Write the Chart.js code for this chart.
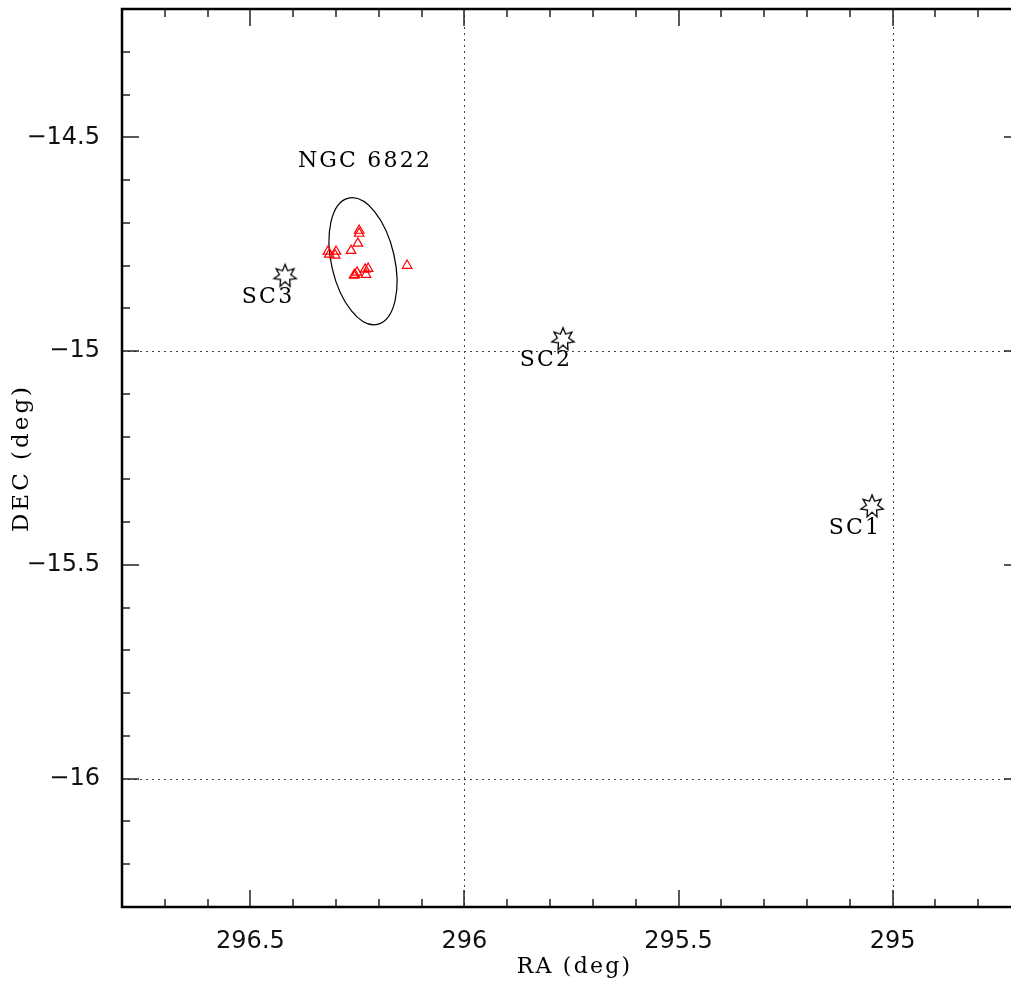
<!DOCTYPE html>
<html lang="en">
<head>
  <meta charset="UTF-8">
  <title>NGC 6822 field</title>
  <script src="https://cdn.jsdelivr.net/npm/chart.js"></script>
  <style>
    html, body { margin: 0; padding: 0; background: #fff; overflow: hidden; }
    canvas { display: block; margin-top: -4px; }
  </style>
</head>
<body>
  <canvas id="fieldChart" width="1034" height="992"></canvas>

  <script>
    // red triangles (NGC 6822 objects)
    const objRA  = [296.246, 296.246, 296.249, 296.265, 296.319, 296.316, 296.300, 296.302,
                    296.256, 296.251, 296.258, 296.232, 296.225, 296.230, 296.134];
    const objDec = [-14.718, -14.725, -14.748, -14.765, -14.767, -14.774, -14.767, -14.776,
                    -14.821, -14.816, -14.823, -14.809, -14.807, -14.821, -14.800];

    // stars SC1..SC3
    const starNames = ['SC1', 'SC2', 'SC3'];
    const starRA  = [295.048, 295.770, 296.419];
    const starDec = [-15.362, -14.971, -14.823];

    // galaxy ellipse (deg) and its label
    const galName = 'NGC 6822';
    const galRA = 296.237, galDec = -14.790;
    const galMajor = 0.1515, galMinor = 0.0738, galAngle = -12.9;
    const galLabelDec = -14.557;

    // axes
    const raMin = 294.7, raMax = 296.8;
    const decMin = -16.3, decMax = -14.2;
    const gridRA = [295, 296];
    const gridDec = [-15, -16];

    const serif = '"DejaVu Serif", serif';

    // open 7-point star used as point style
    function makeStar() {
      const c = document.createElement('canvas');
      c.width = 28; c.height = 28;
      const g = c.getContext('2d');
      g.beginPath();
      for (let i = 0; i < 14; i++) {
        const r = i % 2 === 0 ? 11.5 : 5.8;
        const a = Math.PI * i / 7;
        const px = 14 + Math.sin(a) * r, py = 14.5 - Math.cos(a) * r;
        if (i === 0) g.moveTo(px, py); else g.lineTo(px, py);
      }
      g.closePath();
      g.fillStyle = '#fff';
      g.fill();
      g.lineWidth = 1.3;
      g.strokeStyle = '#000';
      g.stroke();
      return c;
    }

    const framePlugin = {
      id: 'frame',
      beforeDatasetsDraw(chart) {
        const { ctx, chartArea: a, scales: { x, y } } = chart;
        ctx.save();
        // dotted grid lines
        ctx.strokeStyle = '#444';
        ctx.lineWidth = 1;
        ctx.setLineDash([2, 4]);
        gridRA.forEach(v => {
          const px = Math.round(x.getPixelForValue(v)) + 0.5;
          ctx.beginPath(); ctx.moveTo(px, a.top); ctx.lineTo(px, a.bottom); ctx.stroke();
        });
        gridDec.forEach(v => {
          const py = Math.round(y.getPixelForValue(v)) + 0.5;
          ctx.beginPath(); ctx.moveTo(a.left, py); ctx.lineTo(a.right, py); ctx.stroke();
        });
        ctx.setLineDash([]);

        // ellipse
        const cx = x.getPixelForValue(galRA), cy = y.getPixelForValue(galDec);
        const rx = Math.abs(x.getPixelForValue(galRA + galMinor) - cx);
        const ry = Math.abs(y.getPixelForValue(galDec + galMajor) - cy);
        ctx.strokeStyle = '#000';
        ctx.lineWidth = 1.2;
        ctx.beginPath();
        ctx.ellipse(cx, cy, rx, ry, galAngle * Math.PI / 180, 0, 2 * Math.PI);
        ctx.stroke();

        // inward ticks on all four sides
        ctx.strokeStyle = '#222';
        ctx.lineWidth = 1.5;
        for (let i = Math.ceil(raMin * 10); i <= Math.floor(raMax * 10); i++) {
          const px = Math.round(x.getPixelForValue(i / 10));
          const len = i % 5 === 0 ? 17 : 8;
          ctx.beginPath();
          ctx.moveTo(px, a.bottom); ctx.lineTo(px, a.bottom - len);
          ctx.moveTo(px, a.top); ctx.lineTo(px, a.top + len);
          ctx.stroke();
        }
        for (let i = Math.ceil(decMin * 10); i <= Math.floor(decMax * 10); i++) {
          const py = Math.round(y.getPixelForValue(i / 10));
          const len = i % 5 === 0 ? 17 : 8;
          ctx.beginPath();
          ctx.moveTo(a.left, py); ctx.lineTo(a.left + len, py);
          ctx.moveTo(a.right, py); ctx.lineTo(a.right - len, py);
          ctx.stroke();
        }

        // frame
        ctx.strokeStyle = '#000';
        ctx.lineWidth = 2.5;
        ctx.strokeRect(a.left, a.top, a.right - a.left, a.bottom - a.top);
        ctx.restore();
      },
      afterDatasetsDraw(chart) {
        const { ctx, chartArea: a, scales: { x, y } } = chart;
        ctx.save();
        ctx.fillStyle = '#000';
        ctx.font = '22px ' + serif;
        ctx.letterSpacing = '2.2px';
        ctx.textAlign = 'center';
        ctx.textBaseline = 'middle';
        // star labels sit below-left of each star
        starNames.forEach((n, i) => {
          const px = x.getPixelForValue(starRA[i]), py = y.getPixelForValue(starDec[i]);
          ctx.fillText(n, px - 17, py + 22);
        });
        ctx.fillText(galName, x.getPixelForValue(galRA) + 2, y.getPixelForValue(galLabelDec));

        // axis titles
        ctx.fillText('RA (deg)', x.getPixelForValue(295.75) + 3, a.bottom + 60);
        ctx.font = '23px ' + serif;
        ctx.letterSpacing = '3px';
        ctx.translate(22, (a.top + a.bottom) / 2);
        ctx.rotate(-Math.PI / 2);
        ctx.fillText('DEC (deg)', 0, 0);
        ctx.restore();
      }
    };

    const ctx = document.getElementById('fieldChart').getContext('2d');
    new Chart(ctx, {
      type: 'scatter',
      data: {
        datasets: [{
          label: 'objects',
          data: objRA.map((r, i) => ({ x: r, y: objDec[i] })),
          pointStyle: 'triangle',
          pointRadius: 5.5,
          pointHoverRadius: 5.5,
          borderColor: '#ff0000',
          backgroundColor: 'rgba(0,0,0,0)',
          borderWidth: 1.2
        }, {
          label: 'stars',
          data: starRA.map((r, i) => ({ x: r, y: starDec[i] })),
          pointStyle: makeStar(),
          pointRadius: 12
        }]
      },
      options: {
        responsive: false,
        animation: false,
        events: [],
        layout: { padding: { top: 5, right: 9, left: 0, bottom: 0 } },
        plugins: { legend: { display: false }, tooltip: { enabled: false } },
        scales: {
          x: {
            type: 'linear',
            reverse: true,
            min: raMin,
            max: raMax,
            grid: { display: false },
            border: { display: false },
            ticks: {
              stepSize: 0.5,
              includeBounds: false,
              padding: 12,
              color: '#111',
              font: { family: '"DejaVu Sans", sans-serif', size: 24 },
              callback: v => String(v)
            },
            afterFit: s => { s.height = 81; s.paddingLeft = 0; s.paddingRight = 0; }
          },
          y: {
            type: 'linear',
            min: decMin,
            max: decMax,
            grid: { display: false },
            border: { display: false },
            ticks: {
              stepSize: 0.5,
              includeBounds: false,
              padding: 14,
              color: '#111',
              font: { family: '"DejaVu Sans", sans-serif', size: 24 },
              callback: v => String(v).replace('-', '\u2212')
            },
            afterFit: s => { s.width = 122; s.paddingTop = 0; s.paddingBottom = 0; }
          }
        }
      },
      plugins: [framePlugin]
    });
  </script>
</body>
</html>
